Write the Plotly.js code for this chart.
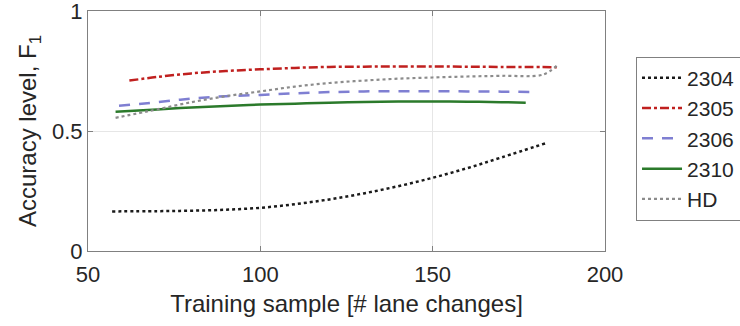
<!DOCTYPE html>
<html>
<head>
<meta charset="utf-8">
<script src="https://cdn.plot.ly/plotly-3.0.1.min.js"></script>
<style>html,body{margin:0;padding:0;background:#fff;}#chart{width:740px;height:326px;}</style>
</head>
<body>
<div id="chart"></div>
<script>
const names = ['2304', '2305', '2306', '2310', 'HD'];

const x2304 = [57, 70, 80, 90, 100, 110, 120, 130, 140, 150, 160, 170, 183];
const y2304 = [0.165, 0.166, 0.168, 0.172, 0.18, 0.195, 0.215, 0.24, 0.27, 0.305, 0.345, 0.39, 0.45];

const x2305 = [62, 70, 80, 90, 100, 110, 120, 130, 140, 150, 160, 170, 186];
const y2305 = [0.71, 0.725, 0.74, 0.75, 0.757, 0.763, 0.767, 0.768, 0.769, 0.769, 0.768, 0.767, 0.766];

const x2306 = [59, 70, 80, 90, 100, 110, 120, 130, 140, 150, 160, 170, 180];
const y2306 = [0.605, 0.62, 0.635, 0.645, 0.65, 0.657, 0.662, 0.665, 0.666, 0.666, 0.665, 0.664, 0.662];

const x2310 = [58, 70, 80, 90, 100, 110, 120, 130, 140, 150, 160, 170, 177];
const y2310 = [0.58, 0.59, 0.598, 0.604, 0.61, 0.614, 0.618, 0.621, 0.623, 0.623, 0.622, 0.62, 0.618];

const xHD = [58, 65, 70, 80, 90, 100, 110, 120, 130, 140, 150, 160, 170, 182, 186];
const yHD = [0.555, 0.575, 0.59, 0.62, 0.645, 0.665, 0.685, 0.7, 0.71, 0.718, 0.723, 0.727, 0.73, 0.735, 0.772];

const xTicks = [50, 100, 150, 200];
const yTicks = [0, 0.5, 1];
const yTickText = ['0', '0.5', '1'];

const fontFam = 'Liberation Sans, Arial, sans-serif';
const txtCol = '#262626';
const axCol = '#808080';

const traces = [
  {x: x2304, y: y2304, name: names[0], mode: 'lines', line: {color: '#1a1a1a', width: 2.5, dash: 'dot', shape: 'spline'}},
  {x: x2305, y: y2305, name: names[1], mode: 'lines', line: {color: '#c0201f', width: 2.5, dash: 'dashdot', shape: 'spline'}},
  {x: x2306, y: y2306, name: names[2], mode: 'lines', line: {color: '#7f7fd2', width: 2.5, dash: '11px,9px', shape: 'spline'}},
  {x: x2310, y: y2310, name: names[3], mode: 'lines', line: {color: '#2b7a2b', width: 2.5, dash: 'solid', shape: 'spline'}},
  {x: xHD, y: yHD, name: names[4], mode: 'lines', line: {color: '#8c8c8c', width: 2.2, dash: 'dot', shape: 'spline'}}
];

const layout = {
  width: 740, height: 326,
  margin: {l: 88, r: 135, t: 11, b: 75, autoexpand: false},
  paper_bgcolor: '#fff', plot_bgcolor: '#fff',
  font: {family: fontFam, size: 20, color: txtCol},
  showlegend: true,
  legend: {
    x: 1.06, xanchor: 'left', y: 0.81, yanchor: 'top',
    bordercolor: axCol, borderwidth: 1, bgcolor: '#fff',
    font: {family: fontFam, size: 21, color: txtCol},
    itemwidth: 40,
    tracegroupgap: 0
  },
  xaxis: {
    range: [50, 200], tickvals: xTicks, ticktext: xTicks.map(String),
    showgrid: true, gridcolor: '#e6e6e6', gridwidth: 1,
    zeroline: false, showline: true, linecolor: axCol, linewidth: 1, mirror: 'ticks',
    ticks: 'inside', ticklen: 5, tickcolor: axCol,
    ticklabeloverflow: 'allow', ticklabelstandoff: 4,
    tickfont: {family: fontFam, size: 22, color: txtCol},
    title: {text: 'Training sample [# lane changes]', font: {family: fontFam, size: 24, color: txtCol}, standoff: 8}
  },
  yaxis: {
    range: [0, 1], tickvals: yTicks, ticktext: yTickText,
    showgrid: true, gridcolor: '#e6e6e6', gridwidth: 1,
    zeroline: false, showline: true, linecolor: axCol, linewidth: 1, mirror: 'ticks',
    ticks: 'inside', ticklen: 5, tickcolor: axCol,
    ticklabeloverflow: 'allow',
    tickfont: {family: fontFam, size: 22, color: txtCol},
    title: {text: 'Accuracy level, F<sub>1</sub>', font: {family: fontFam, size: 24, color: txtCol}, standoff: 8}
  }
};

Plotly.newPlot('chart', traces, layout, {displayModeBar: false, staticPlot: true});
</script>
</body>
</html>
